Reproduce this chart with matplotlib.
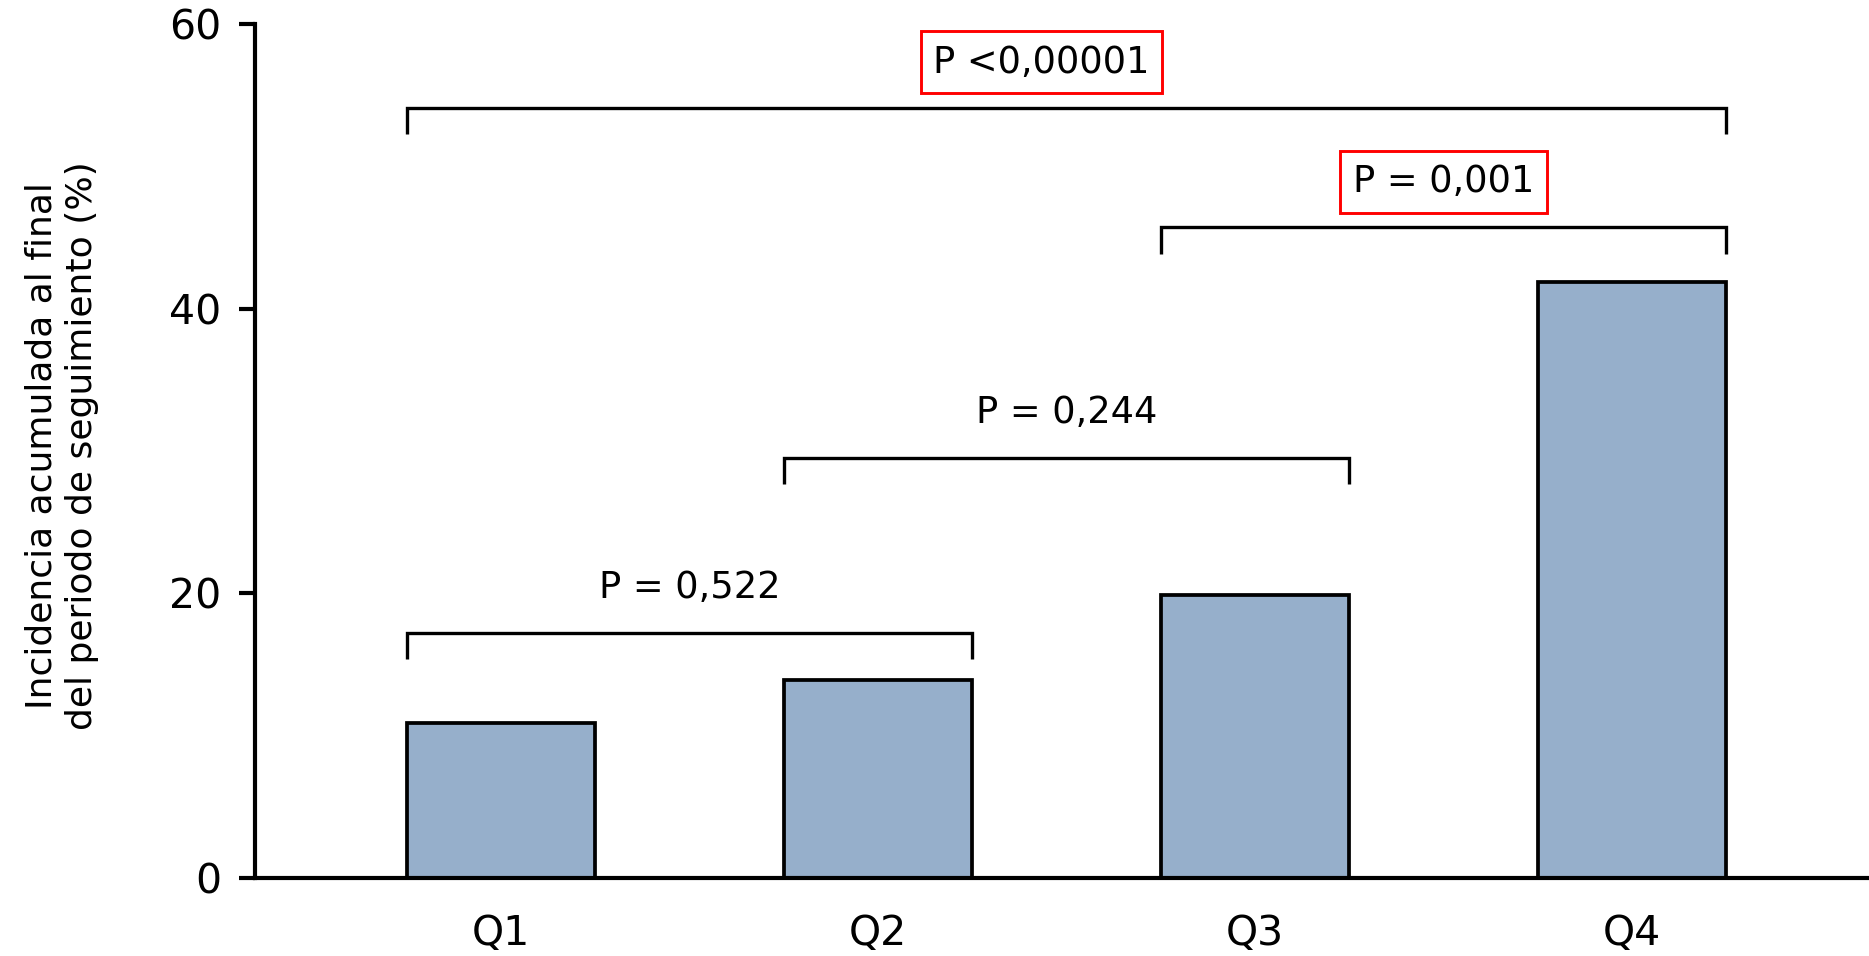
import matplotlib
matplotlib.use("Agg")
import matplotlib.pyplot as plt

# Cumulative incidence by quartile
categories = ["Q1", "Q2", "Q3", "Q4"]
incidence = [10.9, 13.9, 19.9, 41.9]

# Pairwise comparisons: (left group, right group, bracket height, label, highlighted)
pair_left = [0, 1, 2, 0]
pair_right = [1, 2, 3, 3]
bracket_heights = [17.2, 29.5, 45.7, 54.1]
p_labels = ["P = 0,522", "P = 0,244", "P = 0,001", "P <0,00001"]
highlighted = [False, False, True, True]
label_shift = [0.0, 0.0, 0.0, -0.066]

y_ticks = [0, 20, 40, 60]

bar_color = "#96AFCB"
bar_width = 0.5
drop = 1.85
label_gap = 3.2

fig = plt.figure(figsize=(18.69, 9.56), dpi=100)
ax = fig.add_axes([0.1364, 0.0816, 0.8636, 0.8934])

x = list(range(len(categories)))
ax.bar(x, incidence, width=bar_width, color=bar_color,
       edgecolor="black", linewidth=2.7, zorder=2)

for l, r, h, lab, hi, dx in zip(pair_left, pair_right, bracket_heights,
                                p_labels, highlighted, label_shift):
    x0 = x[l] - bar_width / 2
    x1 = x[r] + bar_width / 2
    ax.plot([x0, x0, x1, x1], [h - drop, h, h, h - drop], color="black",
            linewidth=2.4, solid_capstyle="butt", solid_joinstyle="miter",
            clip_on=False)
    kw = {}
    if hi:
        kw["bbox"] = dict(boxstyle="square,pad=0.34", facecolor="white",
                          edgecolor="#FF0000", linewidth=2.1)
    ax.text((x0 + x1) / 2 + dx, h + label_gap, lab, ha="center", va="center",
            fontsize=26.5, fontfamily="DejaVu Sans", **kw)

ax.set_xlim(-0.6525, 3.629)
ax.set_ylim(0, 60)
ax.set_xticks(x)
ax.set_xticklabels(categories)
ax.set_yticks(y_ticks)

for side in ("top", "right"):
    ax.spines[side].set_visible(False)
for side in ("left", "bottom"):
    ax.spines[side].set_linewidth(3.0)

ax.tick_params(axis="y", length=11.5, width=3.0, pad=13, labelsize=29.5)
ax.tick_params(axis="x", length=0, pad=26, labelsize=29.5)

ax.set_ylabel("Incidencia acumulada al final\ndel periodo de seguimiento (%)",
              fontsize=26, linespacing=1.25)
ax.yaxis.set_label_coords(-0.0967, 0.506)

fig.savefig("out.png", dpi=100)
